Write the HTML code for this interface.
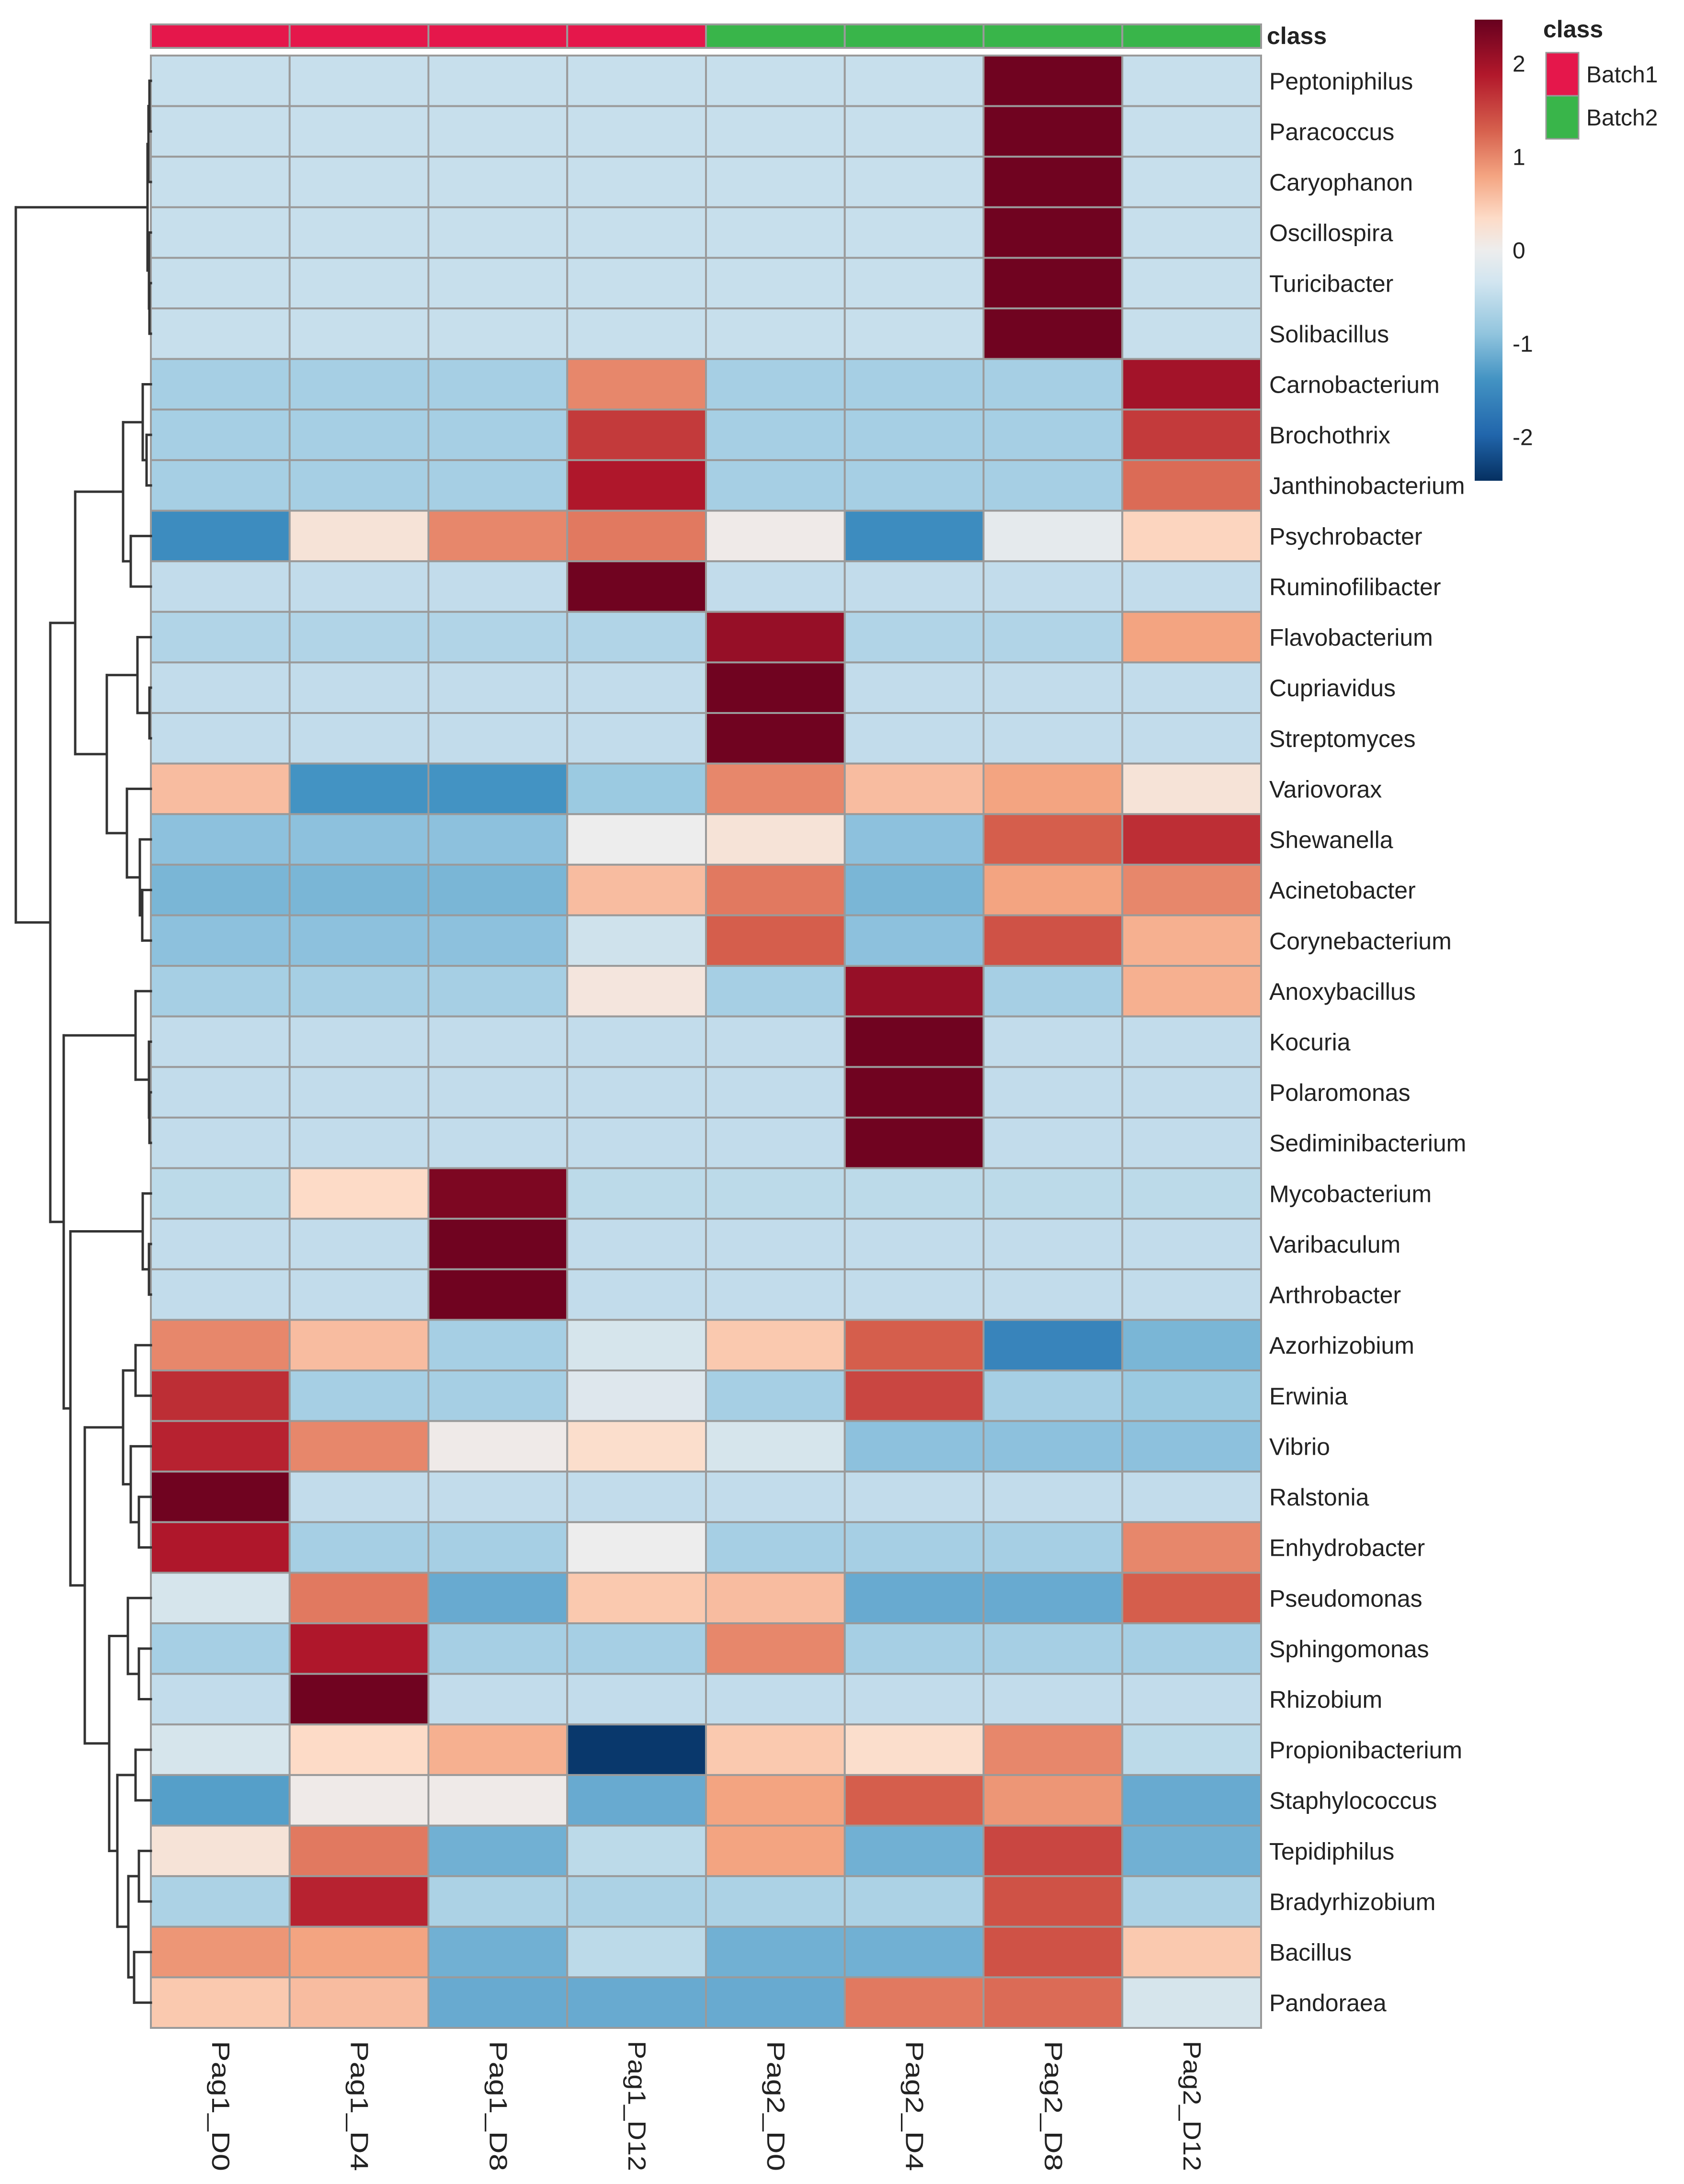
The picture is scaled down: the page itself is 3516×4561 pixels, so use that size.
<!DOCTYPE html>
<html><head><meta charset="utf-8"><style>
html,body{margin:0;padding:0;background:#fff;}
svg{display:block;}
text{font-family:"Liberation Sans",sans-serif;fill:#222;}
</style></head><body>
<svg id="chart" width="3516" height="4561" viewBox="0 0 3516 4561" xmlns="http://www.w3.org/2000/svg">
<defs>
<linearGradient id="cbgrad" x1="0" y1="1" x2="0" y2="0">
<stop offset="0" stop-color="#053061"/>
<stop offset="0.1" stop-color="#2166AC"/>
<stop offset="0.22" stop-color="#4393C3"/>
<stop offset="0.32" stop-color="#92C5DE"/>
<stop offset="0.43" stop-color="#D1E5F0"/>
<stop offset="0.5" stop-color="#EDEDED"/>
<stop offset="0.57" stop-color="#FDDBC7"/>
<stop offset="0.66" stop-color="#F4A582"/>
<stop offset="0.76" stop-color="#D6604D"/>
<stop offset="0.88" stop-color="#B2182B"/>
<stop offset="1" stop-color="#67001F"/>
</linearGradient>
</defs>
<g id="cells"></g>
<g id="dendro"></g>
<g id="labels"></g>
<g>
<rect x="3079" y="41" width="58" height="963" fill="url(#cbgrad)"/>
<g id="cbticks"></g>
</g>
<g>
<text x="3222" y="78" font-size="50" font-weight="bold">class</text>
<rect x="3228" y="110" width="68" height="90" fill="#E5174B" stroke="#999" stroke-width="3"/>
<rect x="3228" y="200" width="68" height="90" fill="#39B54A" stroke="#999" stroke-width="3"/>
<text x="3312" y="172" font-size="48">Batch1</text>
<text x="3312" y="262" font-size="48">Batch2</text>
</g>
</svg>
<script>
const rowNames = ["Peptoniphilus","Paracoccus","Caryophanon","Oscillospira","Turicibacter","Solibacillus","Carnobacterium","Brochothrix","Janthinobacterium","Psychrobacter","Ruminofilibacter","Flavobacterium","Cupriavidus","Streptomyces","Variovorax","Shewanella","Acinetobacter","Corynebacterium","Anoxybacillus","Kocuria","Polaromonas","Sediminibacterium","Mycobacterium","Varibaculum","Arthrobacter","Azorhizobium","Erwinia","Vibrio","Ralstonia","Enhydrobacter","Pseudomonas","Sphingomonas","Rhizobium","Propionibacterium","Staphylococcus","Tepidiphilus","Bradyrhizobium","Bacillus","Pandoraea"];
const colNames = ["Pag1_D0","Pag1_D4","Pag1_D8","Pag1_D12","Pag2_D0","Pag2_D4","Pag2_D8","Pag2_D12"];
const colClass = ["Batch1","Batch1","Batch1","Batch1","Batch2","Batch2","Batch2","Batch2"];
const values = [
[-0.5,-0.5,-0.5,-0.5,-0.5,-0.5,2.4,-0.5],
[-0.5,-0.5,-0.5,-0.5,-0.5,-0.5,2.4,-0.5],
[-0.5,-0.5,-0.5,-0.5,-0.5,-0.5,2.4,-0.5],
[-0.5,-0.5,-0.5,-0.5,-0.5,-0.5,2.4,-0.5],
[-0.5,-0.5,-0.5,-0.5,-0.5,-0.5,2.4,-0.5],
[-0.5,-0.5,-0.5,-0.5,-0.5,-0.5,2.4,-0.5],
[-0.8,-0.8,-0.8,1.0,-0.8,-0.8,-0.8,2.0],
[-0.8,-0.8,-0.8,1.6,-0.8,-0.8,-0.8,1.6],
[-0.8,-0.8,-0.8,1.9,-0.8,-0.8,-0.8,1.2],
[-1.5,0.2,1.0,1.1,0.05,-1.5,-0.1,0.4],
[-0.55,-0.55,-0.55,2.4,-0.55,-0.55,-0.55,-0.55],
[-0.7,-0.7,-0.7,-0.7,2.1,-0.7,-0.7,0.8],
[-0.55,-0.55,-0.55,-0.55,2.4,-0.55,-0.55,-0.55],
[-0.55,-0.55,-0.55,-0.55,2.4,-0.55,-0.55,-0.55],
[0.6,-1.4,-1.4,-0.9,1.0,0.6,0.8,0.2],
[-1.0,-1.0,-1.0,0.0,0.2,-1.0,1.3,1.7],
[-1.1,-1.1,-1.1,0.6,1.1,-1.1,0.8,1.0],
[-1.0,-1.0,-1.0,-0.4,1.3,-1.0,1.4,0.7],
[-0.8,-0.8,-0.8,0.15,-0.8,2.1,-0.8,0.7],
[-0.55,-0.55,-0.55,-0.55,-0.55,2.4,-0.55,-0.55],
[-0.55,-0.55,-0.55,-0.55,-0.55,2.4,-0.55,-0.55],
[-0.55,-0.55,-0.55,-0.55,-0.55,2.4,-0.55,-0.55],
[-0.6,0.35,2.3,-0.6,-0.6,-0.6,-0.6,-0.6],
[-0.55,-0.55,2.4,-0.55,-0.55,-0.55,-0.55,-0.55],
[-0.55,-0.55,2.4,-0.55,-0.55,-0.55,-0.55,-0.55],
[1.0,0.6,-0.8,-0.3,0.5,1.3,-1.6,-1.1],
[1.7,-0.8,-0.8,-0.2,-0.8,1.5,-0.8,-0.9],
[1.8,1.0,0.05,0.3,-0.3,-1.0,-1.0,-1.0],
[2.4,-0.55,-0.55,-0.55,-0.55,-0.55,-0.55,-0.55],
[1.9,-0.8,-0.8,0.0,-0.8,-0.8,-0.8,1.0],
[-0.3,1.1,-1.2,0.5,0.6,-1.2,-1.2,1.3],
[-0.8,1.9,-0.8,-0.8,1.0,-0.8,-0.8,-0.8],
[-0.55,2.4,-0.55,-0.55,-0.55,-0.55,-0.55,-0.55],
[-0.3,0.35,0.7,-2.4,0.5,0.3,1.0,-0.6],
[-1.3,0.05,0.05,-1.2,0.8,1.3,0.9,-1.2],
[0.2,1.1,-1.15,-0.6,0.8,-1.15,1.5,-1.15],
[-0.75,1.8,-0.75,-0.75,-0.75,-0.75,1.4,-0.75],
[0.9,0.8,-1.15,-0.6,-1.15,-1.15,1.4,0.5],
[0.5,0.6,-1.2,-1.2,-1.2,1.1,1.2,-0.3]
];
const scaleTicks = [2,1,0,-1,-2];
</script>
<script>
const NS="http://www.w3.org/2000/svg";
const L=315, T=116, CW=(2633-315)/8, RH=(4235-116)/39;
const vmin=-2.47, vmax=2.47;
const stops=[[-2.47,[5,48,97]],[-2.0,[33,102,172]],[-1.4,[67,147,195]],[-0.95,[150,199,224]],[-0.5,[199,223,236]],[0,[237,237,237]],[0.35,[253,219,199]],[0.79,[244,165,130]],[1.28,[214,96,77]],[1.88,[178,24,43]],[2.47,[103,0,31]]];
function color(v){
  if(v<=stops[0][0]) return "rgb("+stops[0][1]+")";
  for(let i=1;i<stops.length;i++){
    if(v<=stops[i][0]){const a=stops[i-1],b=stops[i],t=(v-a[0])/(b[0]-a[0]);
      return "rgb("+a[1].map((c,k)=>Math.round(c+(b[1][k]-c)*t)).join(",")+")";}
  }
  return "rgb("+stops[stops.length-1][1]+")";
}
const xCol=j=>L+j*CW, yRow=i=>T+i*RH;
const cells=document.getElementById('cells');
function mk(tag,attrs,parent){const e=document.createElementNS(NS,tag);for(const k in attrs)e.setAttribute(k,attrs[k]);parent.appendChild(e);return e;}
values.forEach((row,i)=>row.forEach((v,j)=>{
  const r=mk('rect',{x:xCol(j),y:yRow(i),width:CW,height:RH,fill:color(v),stroke:'#9a9a9a','stroke-width':4},cells);
  
  
}));
colClass.forEach((c,j)=>{
  const r=mk('rect',{x:xCol(j),y:51,width:CW,height:49,fill:c==="Batch1"?"#E5174B":"#39B54A",stroke:'#9a9a9a','stroke-width':4},cells);
  
  
});
const labels=document.getElementById('labels');
const ct=mk('text',{x:2645,y:92,'font-size':50,'font-weight':'bold'},labels);
ct.textContent='class';


rowNames.forEach((n,i)=>{
  const t=mk('text',{x:2650,y:yRow(i)+RH/2+18,'font-size':50},labels);
  t.textContent=n;
  
  
});
colNames.forEach((n,j)=>{
  const x=xCol(j)+CW/2, y=4262;
  const t=mk('text',{x:x,y:y,'font-size':52,transform:'rotate(90 '+x+' '+y+')','dominant-baseline':'central',textLength:272,lengthAdjust:'spacingAndGlyphs'},labels);
  t.textContent=n;
  
  
});
const cbt=document.getElementById('cbticks');
const cbY=v=>41+(vmax-v)/(vmax-vmin)*963;
scaleTicks.forEach(v=>{
  const t=mk('text',{x:3158,y:cbY(v)+17,'font-size':48},cbt);
  t.textContent=String(v);
  
  
});
const N=(a,b,h)=>({a,b,h});
const A=N(N(N(0,1,312),2,310),N(3,N(4,5,312),311),308);
const n6=N(6,N(7,8,306),298), n9=N(9,10,273), n88=N(n6,n9,257);
const n11=N(11,N(12,13,312),287), n15=N(15,N(16,17,297),292), n14=N(14,n15,265), n77=N(n11,n14,223);
const n54=N(n88,n77,157);
const n18=N(18,N(19,N(20,21,312),311),283);
const n22=N(22,N(23,24,311),298);
const n25=N(N(25,26,283),N(27,N(28,29,290),273),257);
const n30=N(30,N(31,32,290),267), n33=N(33,34,283), n35=N(N(35,36,290),N(37,38,280),268);
const n228=N(n30,N(n33,n35,245),228);
const n177=N(n25,n228,177), n147=N(n22,n177,147), n133=N(n18,n147,133);
const n105=N(n54,n133,105);
const root=N(A,n105,33);
const dg=document.getElementById('dendro');
function line(x1,y1,x2,y2){const l=mk('line',{x1,y1,x2,y2,stroke:'#333','stroke-width':5,'stroke-linecap':'square'},dg);

}
function draw(n){
  if(typeof n==='number') return {x:L,y:yRow(n)+RH/2};
  const p=draw(n.a), q=draw(n.b);
  line(p.x,p.y,n.h,p.y); line(q.x,q.y,n.h,q.y); line(n.h,p.y,n.h,q.y);
  return {x:n.h,y:(p.y+q.y)/2};
}
draw(root);
</script>
</body></html>
